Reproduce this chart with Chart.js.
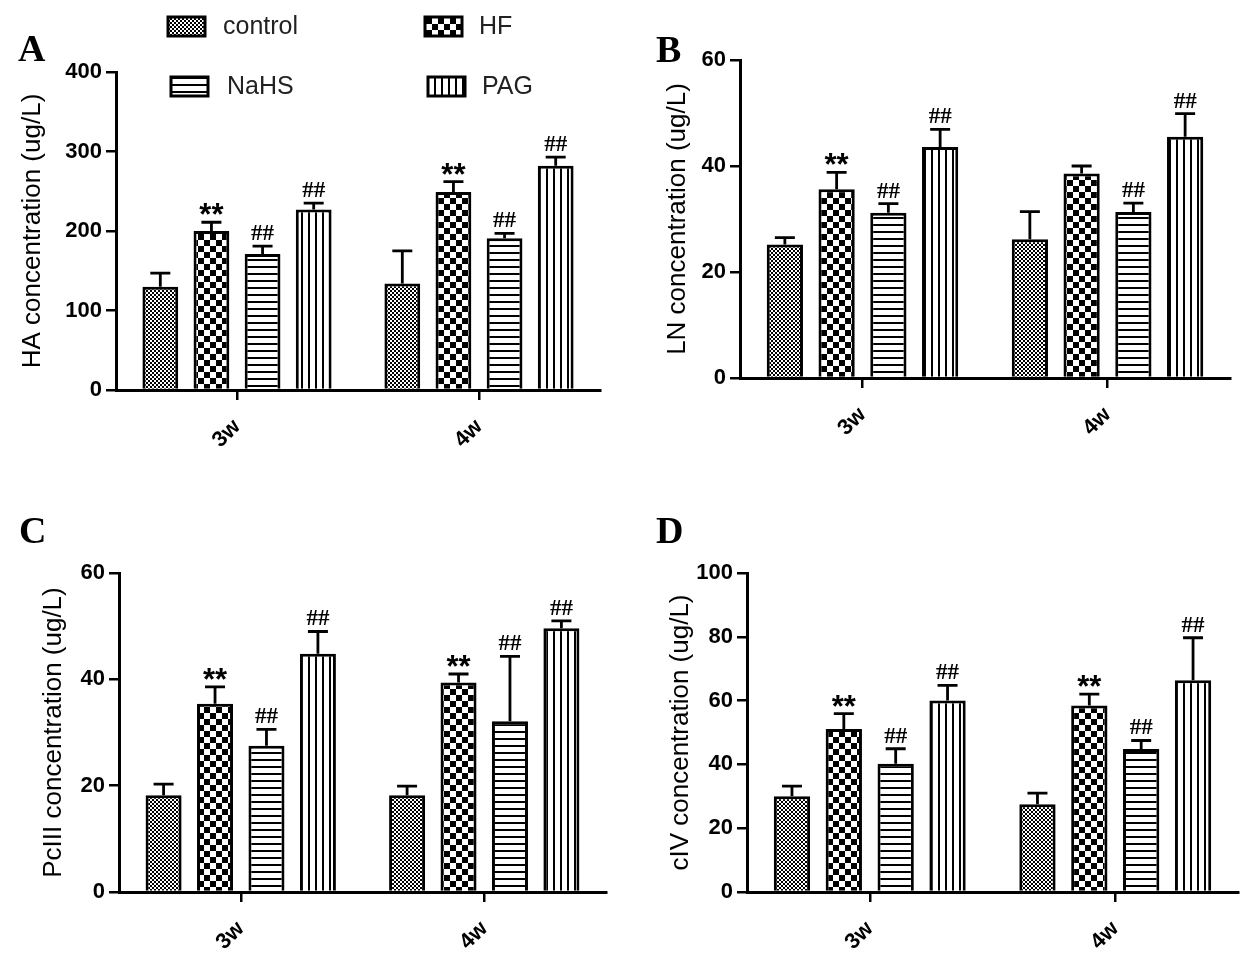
<!DOCTYPE html>
<html><head><meta charset="utf-8">
<script src="https://cdn.jsdelivr.net/npm/chart.js@4.4.0/dist/chart.umd.min.js"></script>
<style>
html,body{margin:0;padding:0;background:#fff;}
#wrap{position:relative;width:1247px;height:959px;overflow:hidden;background:#fff;}
canvas{position:absolute;}
</style></head><body>
<div id="wrap">
<canvas id="cA" width="623" height="479" style="left:0;top:0"></canvas>
<canvas id="cB" width="624" height="479" style="left:623px;top:0"></canvas>
<canvas id="cC" width="623" height="480" style="left:0;top:479px"></canvas>
<canvas id="cD" width="624" height="480" style="left:623px;top:479px"></canvas>
</div>
<script>
// ---------- DATA ----------
const categories = ['3w', '4w'];
const groups = ['control', 'HF', 'NaHS', 'PAG'];

// Panel A: HA concentration (ug/L)
const haMeans  = [[130, 134], [200, 249], [171, 191], [227, 282]];
const haErrors = [[17, 41], [11, 13], [10, 6], [8, 11]];
const haMarks  = [['', ''], ['**', '**'], ['##', '##'], ['##', '##']];
const haTicks  = {min: 0, max: 400, step: 100};

// Panel B: LN concentration (ug/L)
const lnMeans  = [[25.2, 26.2], [35.6, 38.6], [31.2, 31.3], [43.6, 45.5]];
const lnErrors = [[1.3, 5.2], [3.2, 1.4], [1.7, 1.7], [3.3, 4.4]];
const lnMarks  = [['', ''], ['**', ''], ['##', '##'], ['##', '##']];
const lnTicks  = {min: 0, max: 60, step: 20};

// Panel C: PcIII concentration (ug/L)
const pcMeans  = [[18.2, 18.2], [35.4, 39.4], [27.5, 32.1], [44.8, 49.6]];
const pcErrors = [[2.1, 1.7], [3.2, 1.6], [3.1, 12.2], [4.2, 1.4]];
const pcMarks  = [['', ''], ['**', '**'], ['##', '##'], ['##', '##']];
const pcTicks  = {min: 0, max: 60, step: 20};

// Panel D: cIV concentration (ug/L)
const civMeans  = [[30.0, 27.5], [51.1, 58.5], [40.2, 44.8], [60.0, 66.4]];
const civErrors = [[3.2, 3.5], [4.8, 3.5], [4.7, 2.7], [4.8, 13.3]];
const civMarks  = [['', ''], ['**', '**'], ['##', '##'], ['##', '##']];
const civTicks  = {min: 0, max: 100, step: 20};

// ---------- STYLE ----------
const SANS = '"Liberation Sans", Arial, sans-serif';
const SERIF = '"Liberation Serif", "Times New Roman", serif';
Chart.defaults.font.family = SANS;
Chart.defaults.color = '#000';

function makePattern(kind) {
  const c = document.createElement('canvas');
  const g = c.getContext('2d');
  if (kind === 'control') {
    c.width = 4; c.height = 4;
    g.fillStyle = '#fff'; g.fillRect(0, 0, 4, 4);
    g.fillStyle = '#000'; g.fillRect(0, 0, 2, 2); g.fillRect(2, 2, 2, 2);
  } else if (kind === 'HF') {
    c.width = 12; c.height = 12;
    g.fillStyle = '#fff'; g.fillRect(0, 0, 12, 12);
    g.fillStyle = '#000'; g.fillRect(0, 0, 6, 6); g.fillRect(6, 6, 6, 6);
  } else if (kind === 'NaHS') {
    c.width = 4; c.height = 7;
    g.fillStyle = '#fff'; g.fillRect(0, 0, 4, 7);
    g.fillStyle = '#000'; g.fillRect(0, 0, 4, 2);
  } else {
    c.width = 7; c.height = 4;
    g.fillStyle = '#fff'; g.fillRect(0, 0, 7, 4);
    g.fillStyle = '#000'; g.fillRect(0, 0, 2, 4);
  }
  return g.createPattern(c, 'repeat');
}
const patterns = groups.map(makePattern);

const errorBars = {
  id: 'errorBars',
  afterDatasetsDraw(chart) {
    const ctx = chart.ctx, ys = chart.scales.y;
    chart.data.datasets.forEach((ds, di) => {
      const meta = chart.getDatasetMeta(di);
      meta.data.forEach((bar, j) => {
        const v = ds.data[j], e = ds.errors[j];
        const yTop = ys.getPixelForValue(v + e);
        const x = bar.x, cap = 20;
        ctx.save();
        ctx.strokeStyle = '#000'; ctx.lineWidth = 2.8; ctx.lineCap = 'butt';
        ctx.beginPath();
        ctx.moveTo(x, bar.y); ctx.lineTo(x, yTop);
        ctx.moveTo(x - cap / 2, yTop); ctx.lineTo(x + cap / 2, yTop);
        ctx.stroke();
        const m = ds.marks[j];
        if (m) {
          ctx.fillStyle = '#000'; ctx.textAlign = 'center'; ctx.textBaseline = 'alphabetic';
          if (m === '**') { ctx.font = 'bold 31px ' + SANS; ctx.fillText(m, x, yTop + 3); }
          else { ctx.font = 'bold 23px ' + SERIF; ctx.fillText(m, x, yTop - 6); }
        }
        ctx.restore();
      });
    });
  }
};

function letterPlugin(letter, x, y) {
  return {
    id: 'letter' + letter,
    afterDraw(chart) {
      const ctx = chart.ctx;
      ctx.save();
      ctx.font = 'bold 38px ' + SERIF; ctx.fillStyle = '#000';
      ctx.textAlign = 'left'; ctx.textBaseline = 'alphabetic';
      ctx.fillText(letter, x, y);
      ctx.restore();
    }
  };
}

const legendItems = [
  {x: 168, y: 17, tx: 223, ty: 27},
  {x: 425, y: 17, tx: 479, ty: 27},
  {x: 171, y: 77, tx: 227, ty: 87},
  {x: 428, y: 77, tx: 482, ty: 87}
];
const legendPlugin = {
  id: 'patternLegend',
  afterDraw(chart) {
    const ctx = chart.ctx;
    chart.data.datasets.forEach((ds, i) => {
      const it = legendItems[i];
      ctx.save();
      ctx.fillStyle = ds.backgroundColor;
      ctx.fillRect(it.x, it.y, 37, 19);
      ctx.strokeStyle = '#000'; ctx.lineWidth = 3;
      ctx.strokeRect(it.x, it.y, 37, 19);
      ctx.font = '25px ' + SANS; ctx.fillStyle = '#222';
      ctx.textAlign = 'left'; ctx.textBaseline = 'middle';
      ctx.fillText(ds.label, it.tx, it.ty);
      ctx.restore();
    });
  }
};

function makeChart(id, cfg) {
  const datasets = groups.map((g, i) => ({
    label: g,
    data: cfg.means[i],
    errors: cfg.errors[i],
    marks: cfg.marks[i],
    backgroundColor: patterns[i],
    borderColor: '#000',
    borderWidth: 3,
    borderSkipped: 'start',
    barPercentage: 0.7,
    categoryPercentage: 0.845
  }));
  const plugins = [errorBars, letterPlugin(cfg.letter, cfg.lx, cfg.ly)];
  if (cfg.legend) plugins.push(legendPlugin);
  return new Chart(document.getElementById(id), {
    type: 'bar',
    data: {labels: categories, datasets},
    options: {
      responsive: false, animation: false, devicePixelRatio: 1,
      layout: {padding: {left: 0, top: cfg.top, right: cfg.right, bottom: 0}},
      plugins: {legend: {display: false}, tooltip: {enabled: false}},
      scales: {
        x: {
          offset: true,
          grid: {display: true, offset: false, drawOnChartArea: false, drawTicks: true,
                 tickLength: 10, color: '#000', lineWidth: 2.5},
          border: {display: true, color: '#000', width: 3},
          ticks: {color: '#000', font: {size: 22, weight: 'bold'}, minRotation: 45, maxRotation: 45,
                  autoSkip: false, padding: 14},
          afterFit(s) { s.height = cfg.xh; }
        },
        y: {
          min: cfg.ticks.min, max: cfg.ticks.max,
          ticks: {stepSize: cfg.ticks.step, color: '#000', font: {size: 22, weight: 'bold'}, padding: 4},
          grid: {drawOnChartArea: false, drawTicks: true, tickLength: 10, color: '#000', lineWidth: 2.5},
          border: {display: true, color: '#000', width: 3},
          title: {display: true, text: cfg.title, color: '#000', font: {size: 26, weight: 'normal'},
                  padding: {top: cfg.tpad, bottom: 0}},
          afterFit(s) { s.width = cfg.yw; }
        }
      }
    },
    plugins
  });
}

makeChart('cA', {means: haMeans, errors: haErrors, marks: haMarks, ticks: haTicks,
  title: 'HA concentration (ug/L)', letter: 'A', lx: 18, ly: 61,
  top: 72, right: 23, yw: 116, xh: 89, tpad: 17, legend: true});
makeChart('cB', {means: lnMeans, errors: lnErrors, marks: lnMarks, ticks: lnTicks,
  title: 'LN concentration (ug/L)', letter: 'B', lx: 33, ly: 62,
  top: 60, right: 17, yw: 117, xh: 101, tpad: 39});
makeChart('cC', {means: pcMeans, errors: pcErrors, marks: pcMarks, ticks: pcTicks,
  title: 'PcIII concentration (ug/L)', letter: 'C', lx: 19, ly: 64,
  top: 94, right: 17, yw: 119, xh: 67, tpad: 38});
makeChart('cD', {means: civMeans, errors: civErrors, marks: civMarks, ticks: civTicks,
  title: 'cIV concentration (ug/L)', letter: 'D', lx: 33, ly: 64,
  top: 94, right: 9, yw: 124, xh: 67, tpad: 42});
</script>
</body></html>
